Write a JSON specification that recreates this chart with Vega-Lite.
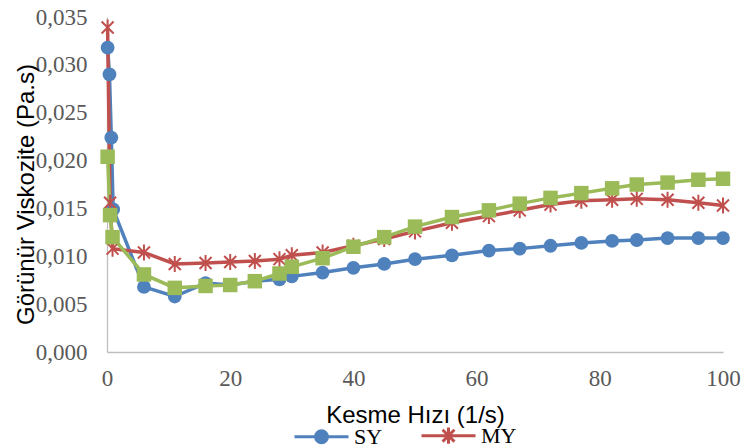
{
  "$schema": "https://vega.github.io/schema/vega-lite/v6.json",
  "width": 616,
  "height": 335,
  "autosize": {"type": "none"},
  "padding": {"left": 107, "top": 17, "right": 20, "bottom": 96},
  "background": "white",
  "config": {
    "view": {"stroke": null},
    "axis": {
      "grid": false,
      "ticks": false,
      "domainColor": "#BFBFBF",
      "domainWidth": 1.3,
      "labelFont": "Liberation Serif",
      "labelFontSize": 23,
      "labelColor": "#595959",
      "labelFlush": false,
      "titleFont": "Liberation Sans",
      "titleFontSize": 24,
      "titleFontWeight": "normal",
      "titleColor": "#000000"
    }
  },
  "data": {
    "values": [
      {"s": "SY", "x": 0.1, "y": 0.0318},
      {"s": "SY", "x": 0.4, "y": 0.0290},
      {"s": "SY", "x": 0.7, "y": 0.0224},
      {"s": "SY", "x": 1.0, "y": 0.0149},
      {"s": "SY", "x": 6, "y": 0.0068},
      {"s": "SY", "x": 11, "y": 0.0058},
      {"s": "SY", "x": 16, "y": 0.0072},
      {"s": "SY", "x": 20, "y": 0.0070},
      {"s": "SY", "x": 24, "y": 0.0074},
      {"s": "SY", "x": 28, "y": 0.0076},
      {"s": "SY", "x": 30, "y": 0.0079},
      {"s": "SY", "x": 35, "y": 0.0083},
      {"s": "SY", "x": 40, "y": 0.0088},
      {"s": "SY", "x": 45, "y": 0.0092},
      {"s": "SY", "x": 50, "y": 0.0097},
      {"s": "SY", "x": 56, "y": 0.0101},
      {"s": "SY", "x": 62, "y": 0.0106},
      {"s": "SY", "x": 67, "y": 0.0108},
      {"s": "SY", "x": 72, "y": 0.0111},
      {"s": "SY", "x": 77, "y": 0.0114},
      {"s": "SY", "x": 82, "y": 0.0116},
      {"s": "SY", "x": 86, "y": 0.0117},
      {"s": "SY", "x": 91, "y": 0.0119},
      {"s": "SY", "x": 96, "y": 0.0119},
      {"s": "SY", "x": 100, "y": 0.0119},
      {"s": "MY", "x": 0.1, "y": 0.0339},
      {"s": "MY", "x": 0.5, "y": 0.0156},
      {"s": "MY", "x": 0.9, "y": 0.0108},
      {"s": "MY", "x": 6, "y": 0.0104},
      {"s": "MY", "x": 11, "y": 0.0092},
      {"s": "MY", "x": 16, "y": 0.0093},
      {"s": "MY", "x": 20, "y": 0.0094},
      {"s": "MY", "x": 24, "y": 0.0095},
      {"s": "MY", "x": 28, "y": 0.0097},
      {"s": "MY", "x": 30, "y": 0.0101},
      {"s": "MY", "x": 35, "y": 0.0104},
      {"s": "MY", "x": 40, "y": 0.0111},
      {"s": "MY", "x": 45, "y": 0.0118},
      {"s": "MY", "x": 50, "y": 0.0126},
      {"s": "MY", "x": 56, "y": 0.0135},
      {"s": "MY", "x": 62, "y": 0.0142},
      {"s": "MY", "x": 67, "y": 0.0148},
      {"s": "MY", "x": 72, "y": 0.0154},
      {"s": "MY", "x": 77, "y": 0.0158},
      {"s": "MY", "x": 82, "y": 0.0159},
      {"s": "MY", "x": 86, "y": 0.0160},
      {"s": "MY", "x": 91, "y": 0.0159},
      {"s": "MY", "x": 96, "y": 0.0156},
      {"s": "MY", "x": 100, "y": 0.0153},
      {"s": "KY", "x": 0.1, "y": 0.0204},
      {"s": "KY", "x": 0.5, "y": 0.0143},
      {"s": "KY", "x": 0.9, "y": 0.0120},
      {"s": "KY", "x": 6, "y": 0.0081},
      {"s": "KY", "x": 11, "y": 0.0067},
      {"s": "KY", "x": 16, "y": 0.0069},
      {"s": "KY", "x": 20, "y": 0.0070},
      {"s": "KY", "x": 24, "y": 0.0074},
      {"s": "KY", "x": 28, "y": 0.0082},
      {"s": "KY", "x": 30, "y": 0.0089},
      {"s": "KY", "x": 35, "y": 0.0098},
      {"s": "KY", "x": 40, "y": 0.0110},
      {"s": "KY", "x": 45, "y": 0.0120},
      {"s": "KY", "x": 50, "y": 0.0131},
      {"s": "KY", "x": 56, "y": 0.0141},
      {"s": "KY", "x": 62, "y": 0.0148},
      {"s": "KY", "x": 67, "y": 0.0155},
      {"s": "KY", "x": 72, "y": 0.0161},
      {"s": "KY", "x": 77, "y": 0.0166},
      {"s": "KY", "x": 82, "y": 0.0171},
      {"s": "KY", "x": 86, "y": 0.0175},
      {"s": "KY", "x": 91, "y": 0.0177},
      {"s": "KY", "x": 96, "y": 0.0180},
      {"s": "KY", "x": 100, "y": 0.0181}
    ]
  },
  "encoding": {
    "x": {
      "field": "x",
      "type": "quantitative",
      "scale": {"domain": [0, 100], "nice": false},
      "axis": {
        "values": [0, 20, 40, 60, 80, 100],
        "labelPadding": 15,
        "title": "Kesme Hızı (1/s)",
        "titleY": 70,
        "titleBaseline": "alphabetic"
      }
    },
    "y": {
      "field": "y",
      "type": "quantitative",
      "scale": {"domain": [0, 0.035], "nice": false, "zero": true},
      "axis": {
        "values": [0, 0.005, 0.01, 0.015, 0.02, 0.025, 0.03, 0.035],
        "labelExpr": "replace(format(datum.value, '.3f'), '.', ',')",
        "labelPadding": 20,
        "title": "Görünür Viskozite (Pa.s)",
        "titleX": -74,
        "titleY": 177,
        "titleBaseline": "alphabetic"
      }
    },
    "color": {
      "field": "s",
      "type": "nominal",
      "sort": ["SY", "MY", "KY"],
      "scale": {"domain": ["SY", "MY", "KY"], "range": ["#4F81BD", "#C0504D", "#9BBB59"]},
      "legend": {
        "values": ["SY", "MY"],
        "title": null,
        "orient": "none",
        "direction": "horizontal",
        "legendX": 186,
        "legendY": 390,
        "symbolSize": 2916,
        "symbolStrokeWidth": 3,
        "labelFont": "Liberation Serif",
        "labelFontSize": 22,
        "labelColor": "#000000",
        "labelOffset": 4,
        "columnPadding": 32,
        "encode": {
          "symbols": {
            "update": {
              "shape": {"signal": "datum.value == 'SY' ? 'M-1,0L1,0M0.22,0A0.22,0.22,0,1,1,-0.22,0A0.22,0.22,0,1,1,0.22,0Z' : 'M-1,0L1,0M0,-0.3L0,0.3M-0.22,-0.22L0.22,0.22M-0.22,0.22L0.22,-0.22'"},
              "size": {"value": 2916},
              "stroke": {"scale": "color", "field": "value"},
              "fill": {"scale": "color", "field": "value"},
              "strokeWidth": {"value": 3},
              "opacity": {"value": 1}
            }
          }
        }
      }
    }
  },
  "layer": [
    {
      "mark": {"type": "line", "strokeWidth": 3.5},
      "encoding": {"detail": {"field": "s"}}
    },
    {
      "transform": [{"filter": "datum.s == 'SY'"}],
      "mark": {"type": "point", "shape": "circle", "filled": true, "opacity": 1, "size": 190}
    },
    {
      "transform": [{"filter": "datum.s == 'MY'"}],
      "mark": {"type": "point", "shape": "M-0.75,-0.75L0.75,0.75M-0.75,0.75L0.75,-0.75M0,-1L0,1", "filled": false, "opacity": 1, "size": 256, "strokeWidth": 2}
    },
    {
      "transform": [{"filter": "datum.s == 'KY'"}],
      "mark": {"type": "point", "shape": "square", "filled": true, "opacity": 1, "size": 210}
    }
  ]
}
